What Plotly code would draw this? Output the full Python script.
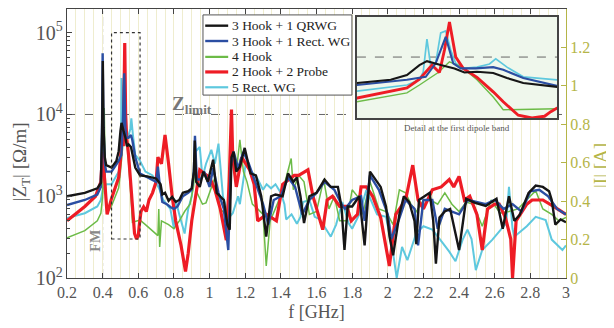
import math
import plotly.graph_objects as go

# ---------------- data ----------------
# |Z_T| [Ohm/m] versus f [GHz]
black_pts = [(0.20, 1000), (0.30, 1100), (0.37, 1250), (0.39, 1450), (0.397, 6000), (0.401, 45000),
             (0.405, 7000), (0.412, 3000), (0.42, 2400), (0.45, 2240), (0.477, 2700), (0.49, 3560),
             (0.50, 6300), (0.506, 7900), (0.517, 6300), (0.528, 5200), (0.536, 4100), (0.546, 4300),
             (0.559, 4000), (0.57, 3000), (0.583, 2240), (0.61, 1800), (0.65, 1750), (0.70, 1650),
             (0.725, 1400), (0.735, 1050), (0.75, 1100), (0.77, 880), (0.79, 980), (0.81, 850),
             (0.83, 900), (0.85, 1100), (0.88, 1150), (0.90, 1250), (0.912, 2000), (0.917, 4800),
             (0.925, 1500), (0.945, 1300), (0.965, 2000), (0.99, 1500), (1.02, 2800), (1.04, 1100),
             (1.06, 1000), (1.08, 900), (1.10, 450), (1.113, 390), (1.123, 3000), (1.135, 3500),
             (1.15, 2000), (1.17, 2300), (1.197, 3900), (1.21, 3000), (1.23, 1900), (1.26, 1800),
             (1.29, 1000), (1.318, 320), (1.345, 1000), (1.37, 1050), (1.41, 1000), (1.44, 1900),
             (1.47, 1500), (1.49, 1700), (1.51, 1000), (1.53, 470), (1.56, 1000), (1.60, 1100),
             (1.645, 1600), (1.68, 1300), (1.72, 1300), (1.74, 750), (1.757, 220), (1.775, 750),
             (1.80, 750), (1.84, 1000), (1.87, 250), (1.90, 2000), (1.93, 1600), (1.96, 1300),
             (1.99, 750), (2.01, 320), (2.03, 190), (2.065, 600), (2.09, 1000), (2.12, 850),
             (2.15, 500), (2.16, 260), (2.175, 900), (2.205, 1000), (2.235, 1100), (2.255, 500),
             (2.27, 150), (2.29, 550), (2.32, 650), (2.35, 700), (2.40, 220), (2.44, 930),
             (2.49, 830), (2.55, 760), (2.61, 930), (2.645, 400), (2.68, 1000), (2.71, 500),
             (2.74, 590), (2.79, 1100), (2.83, 1350), (2.87, 1300), (2.905, 1150), (2.92, 900),
             (2.94, 450), (2.97, 520), (3.0, 480)]

blue_pts = [(0.20, 780), (0.30, 900), (0.37, 1050), (0.39, 1300), (0.397, 9000), (0.400, 56000),
            (0.404, 8000), (0.412, 2500), (0.42, 2000), (0.45, 2000), (0.49, 2700), (0.505, 3200),
            (0.513, 7000), (0.521, 32000), (0.527, 7000), (0.533, 5200), (0.545, 5200), (0.559, 5600),
            (0.567, 4800), (0.583, 3000), (0.61, 1900), (0.65, 1700), (0.70, 1500), (0.71, 2300),
            (0.72, 1400), (0.735, 850), (0.76, 800), (0.78, 740), (0.80, 700), (0.82, 750),
            (0.85, 1000), (0.88, 1100), (0.90, 1200), (0.912, 2000), (0.918, 5500), (0.928, 1600),
            (0.95, 1600), (0.97, 2000), (1.00, 1300), (1.02, 2200), (1.05, 1100), (1.08, 700),
            (1.105, 220), (1.12, 2500), (1.135, 3500), (1.16, 2200), (1.19, 3500), (1.22, 2500),
            (1.25, 1600), (1.30, 800), (1.33, 450), (1.36, 900), (1.40, 1000), (1.44, 1700),
            (1.48, 1300), (1.52, 600), (1.56, 900), (1.60, 1100), (1.645, 1500), (1.70, 1200),
            (1.74, 800), (1.76, 700), (1.80, 900), (1.85, 1000), (1.87, 500), (1.90, 1800),
            (1.95, 1200), (2.00, 600), (2.02, 300), (2.06, 500), (2.10, 900), (2.15, 700),
            (2.17, 250), (2.20, 900), (2.25, 900), (2.28, 400), (2.32, 700), (2.36, 650),
            (2.40, 600), (2.45, 900), (2.50, 850), (2.55, 800), (2.60, 900), (2.65, 700),
            (2.70, 800), (2.75, 650), (2.80, 1150), (2.85, 1200), (2.90, 1000), (2.95, 700),
            (3.0, 600)]

green_pts = [(0.20, 310), (0.30, 380), (0.37, 500), (0.39, 620), (0.40, 1000), (0.405, 4000),
             (0.409, 12000), (0.414, 1800), (0.425, 620), (0.45, 760), (0.49, 1270), (0.50, 2000),
             (0.515, 4100), (0.524, 7600), (0.534, 5600), (0.546, 2700), (0.559, 1000), (0.567, 480),
             (0.583, 490), (0.61, 510), (0.64, 450), (0.68, 380), (0.71, 330), (0.715, 700),
             (0.72, 240), (0.73, 500), (0.75, 470), (0.77, 450), (0.80, 400), (0.83, 500),
             (0.86, 650), (0.89, 800), (0.91, 1300), (0.92, 2500), (0.93, 1100), (0.96, 800),
             (0.98, 830), (1.00, 1100), (1.03, 1700), (1.06, 700), (1.09, 600), (1.11, 400),
             (1.118, 2500), (1.124, 9000), (1.13, 3000), (1.15, 2000), (1.17, 4900), (1.19, 2000),
             (1.21, 1500), (1.24, 800), (1.27, 700), (1.30, 600), (1.318, 140), (1.34, 500),
             (1.38, 800), (1.42, 1400), (1.458, 2900), (1.47, 1200), (1.50, 1800), (1.53, 1500),
             (1.56, 600), (1.60, 650), (1.64, 1600), (1.67, 700), (1.70, 1000), (1.73, 500),
             (1.77, 500), (1.80, 1200), (1.83, 1000), (1.86, 600), (1.90, 1500), (1.95, 700),
             (1.99, 650), (2.03, 450), (2.065, 1200), (2.10, 1100), (2.13, 800), (2.16, 650),
             (2.20, 900), (2.24, 900), (2.28, 800), (2.32, 1100), (2.36, 800), (2.40, 650),
             (2.44, 850), (2.48, 800), (2.53, 430), (2.58, 900), (2.63, 620), (2.68, 650),
             (2.73, 700), (2.78, 900), (2.83, 1170), (2.87, 700), (2.92, 600), (2.96, 500),
             (3.0, 550)]

red_pts = [(0.20, 500), (0.30, 750), (0.36, 1000), (0.39, 1500), (0.40, 3500), (0.41, 1500),
           (0.425, 600), (0.45, 940), (0.49, 1700), (0.50, 2800), (0.51, 6300), (0.516, 4100),
           (0.520, 15000), (0.524, 75000), (0.529, 10000), (0.535, 5200), (0.546, 3100),
           (0.559, 1350), (0.567, 760), (0.579, 350), (0.59, 300), (0.60, 330), (0.605, 430),
           (0.615, 650), (0.63, 740), (0.645, 650), (0.66, 900), (0.68, 1100), (0.70, 1500),
           (0.71, 3000), (0.73, 2500), (0.75, 5600), (0.77, 2500), (0.79, 1000), (0.81, 500),
           (0.84, 250), (0.865, 120), (0.88, 200), (0.90, 500), (0.92, 1000), (0.945, 2100),
           (0.97, 1900), (1.00, 1700), (1.03, 1200), (1.06, 700), (1.094, 290), (1.11, 1500),
           (1.123, 11500), (1.13, 3000), (1.15, 1300), (1.18, 3000), (1.225, 2100), (1.25, 1400),
           (1.27, 500), (1.32, 600), (1.375, 500), (1.41, 1400), (1.475, 1800), (1.50, 1800),
           (1.552, 2100), (1.58, 1000), (1.635, 390), (1.66, 900), (1.69, 1000), (1.73, 750),
           (1.77, 750), (1.795, 500), (1.83, 600), (1.85, 1300), (1.88, 1300), (1.915, 1000),
           (1.96, 550), (2.009, 140), (2.045, 600), (2.065, 700), (2.10, 900), (2.14, 2400),
           (2.17, 900), (2.20, 700), (2.25, 1200), (2.30, 1300), (2.345, 1600), (2.37, 1300),
           (2.40, 1750), (2.43, 900), (2.46, 1000), (2.50, 600), (2.53, 220), (2.56, 700),
           (2.60, 800), (2.625, 800), (2.66, 550), (2.69, 300), (2.70, 100), (2.72, 500),
           (2.78, 800), (2.81, 900), (2.87, 900), (2.93, 750), (2.97, 650), (3.0, 600)]

cyan_pts = [(0.20, 540), (0.30, 620), (0.37, 750), (0.39, 900), (0.40, 1200), (0.42, 1400),
            (0.45, 1400), (0.49, 2000), (0.50, 2700), (0.503, 4200), (0.506, 28000), (0.509, 6000),
            (0.513, 7000), (0.517, 40000), (0.521, 45000), (0.525, 15000), (0.529, 7000),
            (0.535, 5200), (0.546, 5600), (0.556, 6700), (0.561, 9000), (0.57, 5600), (0.583, 3200),
            (0.61, 2700), (0.64, 2000), (0.68, 1800), (0.70, 1500), (0.72, 1200), (0.74, 900),
            (0.76, 800), (0.78, 700), (0.80, 400), (0.81, 900), (0.83, 600), (0.86, 350),
            (0.88, 700), (0.90, 1000), (0.92, 3500), (0.945, 4000), (0.96, 1700), (0.98, 2500),
            (1.01, 3700), (1.03, 2500), (1.05, 4400), (1.075, 1000), (1.11, 550), (1.13, 620),
            (1.16, 1000), (1.17, 800), (1.205, 2700), (1.235, 2000), (1.265, 1700), (1.30, 1200),
            (1.32, 1400), (1.345, 1250), (1.37, 1400), (1.40, 1100), (1.42, 800), (1.43, 520),
            (1.46, 600), (1.49, 460), (1.51, 560), (1.525, 850), (1.56, 900), (1.59, 560),
            (1.62, 520), (1.655, 400), (1.68, 320), (1.71, 450), (1.745, 850), (1.78, 470),
            (1.80, 400), (1.84, 600), (1.88, 1200), (1.91, 850), (1.94, 600), (1.99, 560),
            (2.03, 200), (2.05, 100), (2.08, 240), (2.11, 165), (2.16, 355), (2.20, 430),
            (2.25, 390), (2.31, 265), (2.345, 210), (2.38, 160), (2.42, 295), (2.447, 390),
            (2.47, 300), (2.494, 125), (2.53, 220), (2.587, 295), (2.634, 390), (2.665, 470),
            (2.68, 1300), (2.70, 400), (2.71, 320), (2.78, 430), (2.83, 560), (2.886, 510),
            (2.92, 295), (2.98, 220), (3.0, 250)]

series_names = ["3 Hook + 1 QRWG", "3 Hook + 1 Rect. WG", "4 Hook", "2 Hook + 2 Probe", "5 Rect. WG"]
series_pts = [black_pts, blue_pts, green_pts, red_pts, cyan_pts]
series_colors = ["#161616", "#2b4ea2", "#6cbb47", "#ee1c25", "#5ec8de"]
series_widths = [2.4, 2.4, 1.5, 3.2, 2.0]
draw_order = [4, 2, 3, 1, 0]  # cyan, green, red, blue, black on top

x_tick_vals = [0.2, 0.4, 0.6, 0.8, 1.0, 1.2, 1.4, 1.6, 1.8, 2.0, 2.2, 2.4, 2.6, 2.8, 3.0]
x_tick_text = ["0.2", "0.4", "0.6", "0.8", "1", "1.2", "1.4", "1.6", "1.8", "2", "2.2", "2.4", "2.6", "2.8", "3"]
i_tick_vals = [0, 0.2, 0.4, 0.6, 0.8, 1.0, 1.2, 1.4]
i_tick_text = ["0", "0.2", "0.4", "0.6", "0.8", "1", "1.2", "1.4"]

z_limit = 1e4
fm_freq = 0.4
detail_f = (0.45, 0.61)
detail_z = (300, 1e5)

# ---------------- figure ----------------
SERIF = "Liberation Serif, Times New Roman, serif"
GRAY = "#555555"
OLIVE = "#b5b548"

fig = go.Figure()
for i in draw_order:
    f = [p[0] for p in series_pts[i]]
    z = [p[1] for p in series_pts[i]]
    fig.add_trace(go.Scatter(x=f, y=z, mode="lines", name=series_names[i],
                             line=dict(color=series_colors[i], width=series_widths[i]),
                             showlegend=False, xaxis="x", yaxis="y"))
for i in draw_order:
    f = [p[0] for p in series_pts[i]]
    z = [p[1] for p in series_pts[i]]
    fig.add_trace(go.Scatter(x=f, y=z, mode="lines", name=series_names[i], showlegend=False,
                             line=dict(color=series_colors[i], width=max(series_widths[i] - 0.3, 1.4)),
                             xaxis="x2", yaxis="y3"))
# the |I| axis carries no curve here; an empty trace makes the axis appear
fig.add_trace(go.Scatter(x=[], y=[], yaxis="y2", showlegend=False, hoverinfo="skip"))

# the page adds an 8 px body margin, so the figure is 8 px smaller than the window
fig.update_layout(
    width=606, height=320, autosize=False,
    margin=dict(l=59, r=48, t=1, b=50),
    paper_bgcolor="white", plot_bgcolor="white",
    font=dict(family=SERIF, color=GRAY),
    showlegend=False,
    xaxis=dict(range=[0.2, 3], tickvals=x_tick_vals, ticktext=x_tick_text, automargin=False,
               ticks="inside", ticklen=5, tickcolor="#444",
               showline=True, linecolor="#444", linewidth=1, mirror="ticks",
               showgrid=True, gridcolor="#efedcf", gridwidth=1, zeroline=False,
               minor=dict(dtick=0.05, showgrid=True, gridcolor="#efedcf", gridwidth=1, ticks=""),
               tickfont=dict(family=SERIF, size=16, color=GRAY),
               title=dict(text="f [GHz]", font=dict(family=SERIF, size=18, color=GRAY), standoff=5)),
    yaxis=dict(type="log", range=[2, 5.29], dtick=1, exponentformat="power", showexponent="all",
               automargin=False,
               ticks="inside", ticklen=5, tickcolor="#444",
               minor=dict(ticks="inside", ticklen=3, tickcolor="#444", showgrid=False),
               showline=True, linecolor="#444", linewidth=1, mirror=False,
               showgrid=False, zeroline=False,
               tickfont=dict(family=SERIF, size=16, color=GRAY)),
    yaxis2=dict(overlaying="y", side="right", range=[0, 1.4], tickvals=i_tick_vals, ticktext=i_tick_text,
                automargin=False,
                ticks="inside", ticklen=5, tickcolor=OLIVE,
                showline=True, linecolor=OLIVE, linewidth=1.2, showgrid=False, zeroline=False,
                tickfont=dict(family=SERIF, size=16, color=OLIVE)),
    xaxis2=dict(domain=[0.581, 0.982], anchor="y3", range=list(detail_f), automargin=False,
                showticklabels=False, ticks="", showgrid=False, zeroline=False,
                showline=True, mirror=True, linecolor="#444", linewidth=1.5),
    yaxis3=dict(domain=[0.595, 0.970], anchor="x2", type="log", automargin=False,
                range=[math.log10(detail_z[0]), math.log10(detail_z[1])],
                showticklabels=False, ticks="", showgrid=False, zeroline=False,
                showline=True, mirror=True, linecolor="#444", linewidth=1.5),
)

# axis titles placed as in the reference (slightly below the vertical centre)
fig.add_annotation(xref="paper", yref="paper", x=-0.092, y=0.43, xanchor="center", yanchor="middle",
                   textangle=-90, showarrow=False, text="|Z<sub>T</sub>| [Ω/m]",
                   font=dict(family=SERIF, size=19, color=GRAY))
fig.add_annotation(xref="paper", yref="paper", x=1.068, y=0.42, xanchor="center", yanchor="middle",
                   textangle=-90, showarrow=False, text="|I| [A]",
                   font=dict(family=SERIF, size=19, color=OLIVE))

# guide lines and boxes
fig.add_shape(type="line", xref="x", yref="y", x0=0.2, x1=3, y0=z_limit, y1=z_limit,
              line=dict(color="#666", width=1, dash="dash"), layer="below")
fig.add_shape(type="line", xref="x", yref="y", x0=fm_freq, x1=fm_freq, y0=100, y1=10 ** 5.29,
              line=dict(color="#777", width=1, dash="dashdot"), layer="below")
fig.add_shape(type="rect", xref="x", yref="y", x0=detail_f[0], x1=detail_f[1],
              y0=detail_z[0], y1=detail_z[1],
              line=dict(color="#333", width=1.2, dash="dot"), layer="above")
# inset background and its limit line
fig.add_shape(type="rect", xref="x2", yref="y3", x0=detail_f[0], x1=detail_f[1],
              y0=detail_z[0], y1=detail_z[1], fillcolor="#eff7ec",
              line=dict(width=0), layer="below")
fig.add_shape(type="line", xref="x2", yref="y3", x0=detail_f[0], x1=detail_f[1],
              y0=z_limit, y1=z_limit, line=dict(color="#666", width=1, dash="dash"), layer="below")

# legend box (drawn by hand to match the compact entry spacing)
LEG_X0, LEG_X1, LEG_Y1, LEG_Y0 = 0.2725, 0.571, 0.978, 0.68
fig.add_shape(type="rect", xref="paper", yref="paper", x0=LEG_X0, x1=LEG_X1, y0=LEG_Y0, y1=LEG_Y1,
              fillcolor="white", line=dict(color="#555", width=1), layer="above")
row_y = [0.938, 0.881, 0.822, 0.766, 0.709]
for k in range(5):
    fig.add_shape(type="line", xref="paper", yref="paper", x0=0.277, x1=0.323,
                  y0=row_y[k], y1=row_y[k], layer="above",
                  line=dict(color=series_colors[k], width=max(series_widths[k], 2.2)))
    fig.add_annotation(xref="paper", yref="paper", x=0.326, y=row_y[k], xanchor="left",
                       yanchor="middle", showarrow=False, text=series_names[k],
                       font=dict(family=SERIF, size=13.5, color="#222"))

# text
fig.add_annotation(xref="x", yref="y", x=0.9, y=4.12, showarrow=False,
                   text="<b>Z</b><sub><b>limit</b></sub>",
                   font=dict(family=SERIF, size=19, color="#777"))
fig.add_annotation(xref="x", yref="y", x=0.362, y=2.455, showarrow=False, textangle=-90,
                   text="<b>FM</b>", font=dict(family=SERIF, size=14, color="#888"))
fig.add_annotation(xref="paper", yref="paper", x=0.7816, y=0.558, xanchor="center", yanchor="middle",
                   showarrow=False, text="Detail at the first dipole band",
                   font=dict(family=SERIF, size=9, color="#555"))

fig.write_html("out.html")
